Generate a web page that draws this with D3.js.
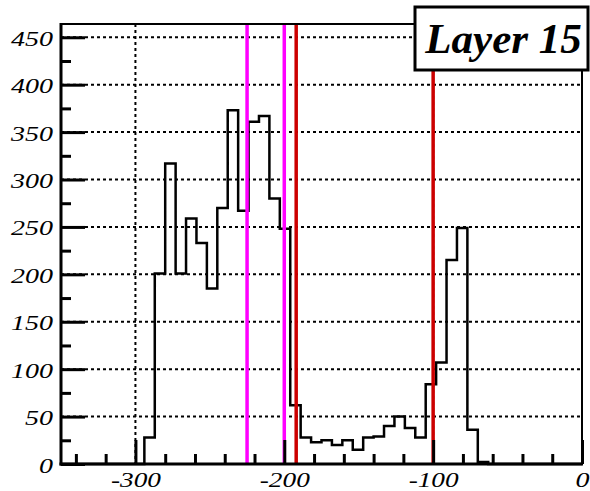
<!DOCTYPE html>
<html>
<head>
<meta charset="utf-8">
<script src="https://cdn.jsdelivr.net/npm/d3@7"></script>
<style>
  html, body { margin: 0; padding: 0; background: #fff; }
  svg { display: block; }
</style>
</head>
<body>
<script>
// Histogram: 50 bins of width 7 over [-350, 0]
const xMin = -350;
const xMax = 0;
const binWidth = 7;
const counts = [
  0, 0, 0, 0, 0, 0, 0, 0, 28, 201,
  317, 201, 259, 233, 185, 270, 373, 267, 361, 367,
  280, 248, 62, 28, 23, 25, 20, 25, 15, 28,
  29, 40, 50, 38, 28, 84, 107, 215, 249, 36,
  2, 0, 0, 0, 0, 0, 0, 0, 0, 0
];
const yMax = 464;

// Axis ticks
const xMajorTicks = [-300, -200, -100, 0];
const xMinorTicks = [-340, -320, -280, -260, -240, -220, -180, -160, -140, -120, -80, -60, -40, -20];
const yMajorTicks = [0, 50, 100, 150, 200, 250, 300, 350, 400, 450];
const yMinorTicks = [25, 75, 125, 175, 225, 275, 325, 375, 425];

// Cut positions
const magentaCuts = [-225, -200];
const redCuts = [-192, -100];

const title = "Layer 15";

const W = 590, H = 491;
const frame = { left: 61, right: 582, top: 24, bottom: 464 };

const x = d3.scaleLinear().domain([xMin, xMax]).range([frame.left, frame.right]);
const y = d3.scaleLinear().domain([0, yMax]).range([frame.bottom, frame.top]);

const svg = d3.select("body").append("svg")
  .attr("width", W).attr("height", H);

svg.append("rect").attr("width", W).attr("height", H).attr("fill", "#fff");

// Dotted grid
const grid = svg.append("g")
  .attr("stroke", "#000").attr("stroke-width", 2)
  .attr("stroke-dasharray", "3,3");
grid.selectAll("line.h").data(yMajorTicks.filter(v => v > 0)).join("line")
  .attr("class", "h")
  .attr("x1", frame.left).attr("x2", frame.right)
  .attr("y1", d => y(d)).attr("y2", d => y(d));
grid.selectAll("line.v").data(xMajorTicks.filter(v => v > xMin && v < xMax)).join("line")
  .attr("class", "v")
  .attr("x1", d => x(d)).attr("x2", d => x(d))
  .attr("y1", frame.top).attr("y2", frame.bottom);

// Histogram outline as a step path
const pts = [[x(xMin), y(0)]];
counts.forEach((c, i) => {
  const x0 = x(xMin + i * binWidth), x1 = x(xMin + (i + 1) * binWidth);
  pts.push([x0, y(c)], [x1, y(c)]);
});
pts.push([x(xMax), y(0)]);
svg.append("path")
  .attr("d", d3.line()(pts))
  .attr("fill", "none").attr("stroke", "#000")
  .attr("stroke-width", 2.5).attr("stroke-linejoin", "miter");

// Cut lines
svg.selectAll("line.mag").data(magentaCuts).join("line")
  .attr("class", "mag")
  .attr("x1", d => x(d)).attr("x2", d => x(d))
  .attr("y1", frame.top).attr("y2", frame.bottom)
  .attr("stroke", "#ff00ff").attr("stroke-width", 3.5);
svg.selectAll("line.red").data(redCuts).join("line")
  .attr("class", "red")
  .attr("x1", d => x(d)).attr("x2", d => x(d))
  .attr("y1", frame.top).attr("y2", frame.bottom)
  .attr("stroke", "#cc0000").attr("stroke-width", 3.5);

// Frame
svg.append("rect")
  .attr("x", frame.left).attr("y", frame.top)
  .attr("width", frame.right - frame.left).attr("height", frame.bottom - frame.top)
  .attr("fill", "none").attr("stroke", "#000").attr("stroke-width", 2);
svg.append("line")
  .attr("x1", frame.left).attr("x2", frame.left)
  .attr("y1", frame.top - 1).attr("y2", frame.bottom + 1.5)
  .attr("stroke", "#000").attr("stroke-width", 3);
svg.append("line")
  .attr("x1", frame.left - 1.5).attr("x2", frame.right + 1)
  .attr("y1", frame.bottom).attr("y2", frame.bottom)
  .attr("stroke", "#000").attr("stroke-width", 3);

// Label width: wide digits, narrow minus sign
function labelLength(s) {
  let w = 0;
  for (const ch of s) w += (ch === "-" ? 8 : 14);
  return w;
}

function styleAxis(g, withText) {
  g.attr("font-family", null).attr("font-size", null);
  g.select(".domain").remove();
  g.selectAll(".tick line").attr("stroke", "#000").attr("stroke-width", 3);
  if (withText) {
    g.selectAll(".tick text")
      .style("font-family", "'Liberation Serif', 'Times New Roman', serif")
      .style("font-style", "italic")
      .style("font-size", "20px")
      .attr("fill", "#000");
  }
}

function fitLabels(g) {
  g.selectAll(".tick text").each(function () {
    const t = d3.select(this);
    t.attr("textLength", labelLength(t.text())).attr("lengthAdjust", "spacingAndGlyphs");
  });
}

// Y axis
svg.append("g").attr("transform", `translate(${frame.left},0)`)
  .call(d3.axisLeft(y).tickValues(yMinorTicks).tickSize(-10).tickSizeOuter(0).tickFormat(""))
  .call(g => styleAxis(g, false));
svg.append("g").attr("transform", `translate(${frame.left},0)`)
  .call(d3.axisLeft(y).tickValues(yMajorTicks).tickSize(-24).tickSizeOuter(0).tickPadding(8).tickFormat(d3.format("d")))
  .call(g => styleAxis(g, true))
  .call(g => g.selectAll(".tick text").attr("dy", "0.4em"))
  .call(fitLabels);

// X axis
svg.append("g").attr("transform", `translate(0,${frame.bottom})`)
  .call(d3.axisBottom(x).tickValues(xMinorTicks).tickSize(-10).tickSizeOuter(0).tickFormat(""))
  .call(g => styleAxis(g, false));
svg.append("g").attr("transform", `translate(0,${frame.bottom})`)
  .call(d3.axisBottom(x).tickValues(xMajorTicks).tickSize(-24).tickSizeOuter(0).tickPadding(9)
    .tickFormat(d => d < 0 ? "-" + Math.abs(d) : String(d)))
  .call(g => styleAxis(g, true))
  .call(fitLabels);

// Title box
const box = { x: 415, y: 7, w: 173, h: 63 };
svg.append("rect")
  .attr("x", box.x).attr("y", box.y).attr("width", box.w).attr("height", box.h)
  .attr("fill", "#fff").attr("stroke", "#000").attr("stroke-width", 3);
svg.append("text")
  .attr("x", box.x + box.w / 2 + 2).attr("y", 53)
  .attr("text-anchor", "middle")
  .style("font-family", "'Liberation Serif', 'Times New Roman', serif")
  .style("font-style", "italic").style("font-weight", "bold")
  .style("font-size", "43px")
  .attr("fill", "#000")
  .text(title);
</script>
</body>
</html>
